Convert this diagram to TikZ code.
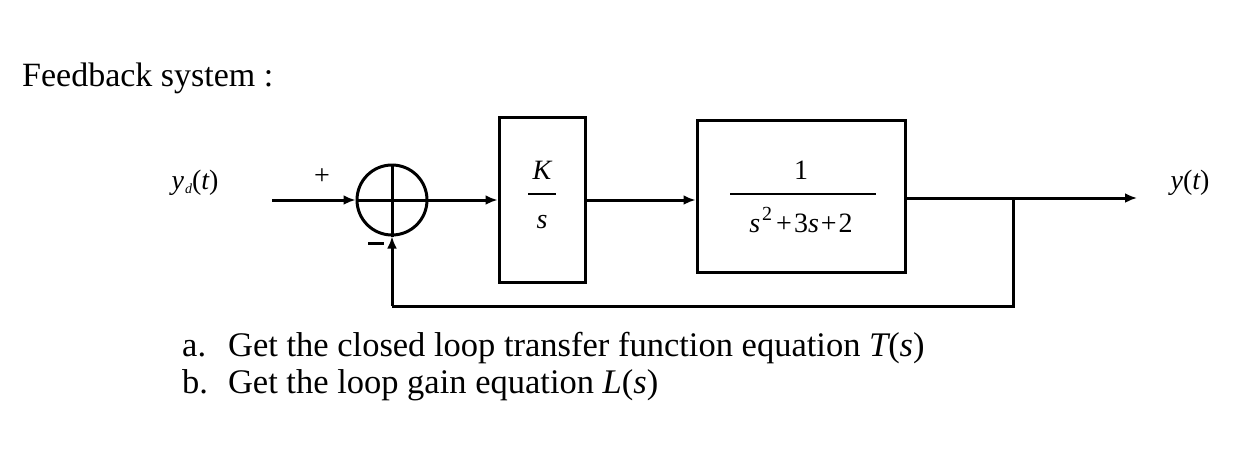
\documentclass[tikz,border=0pt]{standalone}
\usepackage{fontspec}
\setmainfont{Liberation Serif}
\usetikzlibrary{arrows.meta}
\begin{document}
\begin{tikzpicture}[x=1pt,y=-1pt,
  blk/.style={draw,line width=3pt,inner sep=0pt},
  wire/.style={line width=3pt},
  arr/.style={wire,-{Latex[length=12pt,width=10pt]}},
  txt/.style={font=\fontsize{34.5}{38}\selectfont,anchor=west,inner sep=0pt},
  mth/.style={font=\fontsize{28}{32}\selectfont,inner sep=0pt}]
\useasboundingbox (0,0) rectangle (1252,469);
\node[txt,font=\fontsize{34}{38}\selectfont] (title) at (22,78) {Feedback system :};
\node[circle,draw,line width=3pt,minimum size=70pt,inner sep=0pt] (sum) at (392,200) {};
\draw[wire] (sum.north) -- (sum.south) (sum.west) -- (sum.east);
\node[blk,minimum width=86pt,minimum height=165pt] (k) at (542,200) {};
\node[blk,minimum width=208pt,minimum height=152pt] (g) at (801,196) {};
\coordinate (in) at (272,200);
\coordinate (out) at (1137,198);
\coordinate (br) at (1013,198);
\coordinate (fb1) at (1013,306);
\coordinate (fb2) at (392,306);
\draw[arr] (in) -- (sum.west);
\draw[arr] (sum.east) -- (k.west);
\draw[arr] (k.east) -- (g.west|-k.east);
\draw[arr] (g.east|-out) -- (out);
\draw[wire] (br) -- (fb1) -- (fb2);
\draw[arr] (fb2) -- (sum.south);
\node[mth] (yd) at (195,183) {\itshape y\kern1pt\raisebox{-4pt}{\fontsize{14}{14}\selectfont d}\upshape(\itshape t\upshape)};
\node[mth] (plus) at (322,177) {+};
\node[mth] (minus) at (376,247) {\rule[7pt]{16pt}{2.5pt}};
\node[mth] (y) at (1190,183) {\itshape y\upshape(\itshape t\upshape)};
\node[mth] (kn) at (542,170) {\itshape K};
\draw[line width=1.5pt] (528,194) -- (556,194);
\node[mth] (kd) at (542,222) {\itshape s};
\node[mth] (gn) at (801,170) {1};
\draw[line width=1.5pt] (730,194) -- (876,194);
\node[mth] (gd) at (801,220) {\itshape s\kern2pt\raisebox{12pt}{\fontsize{20}{20}\selectfont\upshape 2}\upshape\kern4pt+\kern2pt3\itshape s\upshape\kern2pt+\kern2pt2};
\node[txt] (qa) at (182,348) {a.\hspace{22pt}Get the closed loop transfer function equation \itshape T\upshape(\itshape s\upshape)};
\node[txt] (qb) at (182,385) {b.\hspace{20pt}Get the loop gain equation \itshape L\upshape(\itshape s\upshape)};
\end{tikzpicture}
\end{document}
